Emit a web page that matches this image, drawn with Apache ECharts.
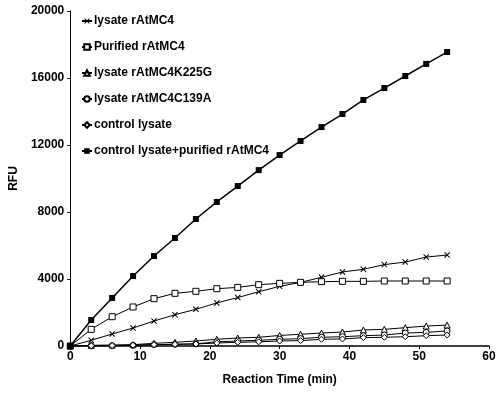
<!DOCTYPE html>
<html>
<head>
<meta charset="utf-8">
<script src="https://cdn.jsdelivr.net/npm/echarts@6/dist/echarts.min.js"></script>
<style>
  html, body { margin: 0; padding: 0; background: #fff; }
  #main { width: 504px; height: 396px; }
</style>
</head>
<body>
<div id="main"></div>
<script>
// reaction time (min)
var times = [0, 3, 6, 9, 12, 15, 18, 21, 24, 27, 30, 33, 36, 39, 42, 45, 48, 51, 54];

var lysateMC4 = [0, 340, 716, 1075, 1490, 1870, 2190, 2570, 2890, 3240, 3560, 3800, 4100, 4420, 4580, 4860, 5010, 5310, 5430];
var purifiedMC4 = [0, 995, 1750, 2330, 2825, 3145, 3265, 3420, 3500, 3660, 3740, 3800, 3840, 3860, 3860, 3880, 3880, 3880, 3880];
var lysateK225G = [0, 40, 60, 80, 160, 220, 300, 400, 477, 520, 630, 700, 775, 835, 955, 995, 1095, 1190, 1250];
var lysateC139A = [0, 10, 20, 40, 80, 100, 130, 250, 300, 340, 400, 440, 520, 555, 615, 655, 775, 815, 895];
var controlLysate = [0, 20, 30, 50, 80, 100, 120, 180, 220, 250, 300, 320, 400, 420, 500, 520, 555, 615, 655];
var controlPlusPurified = [0, 1550, 2870, 4180, 5370, 6450, 7580, 8600, 9550, 10500, 11400, 12240, 13070, 13850, 14690, 15400, 16120, 16840, 17550];

var xTicks = [0, 10, 20, 30, 40, 50, 60];
var yTicks = [0, 4000, 8000, 12000, 16000, 20000];

var font = 'Liberation Sans, Arial, Helvetica, sans-serif';
var xMark = 'path://M0,1.2L1.2,0L5,3.8L8.8,0L10,1.2L6.2,5L10,8.8L8.8,10L5,6.2L1.2,10L0,8.8L3.8,5Z';

function pairs(vals) {
    var out = [];
    for (var i = 0; i < times.length; i++) {
        out.push([times[i], vals[i]]);
    }
    return out;
}

function makeSeries(name, vals, symbol, size, filled, lineW) {
    return {
        name: name,
        type: 'line',
        data: pairs(vals),
        symbol: symbol,
        symbolSize: size,
        showAllSymbol: true,
        animation: false,
        lineStyle: { color: '#000', width: lineW },
        itemStyle: {
            color: filled ? '#000' : '#fff',
            borderColor: '#000',
            borderWidth: filled ? 0 : 1
        }
    };
}

var myChart = echarts.init(document.getElementById('main'));

var option = {
    backgroundColor: '#fff',
    grid: { left: 68, right: 15, top: 11, bottom: 50 },
    legend: {
        orient: 'vertical',
        left: 76,
        top: 10,
        itemWidth: 10,
        itemHeight: 7,
        itemGap: 14,
        textStyle: { fontFamily: font, fontWeight: 'bold', fontSize: 12, color: '#000', padding: [0, 0, 0, -3] },
        data: ['lysate rAtMC4', 'Purified rAtMC4', 'lysate rAtMC4K225G', 'lysate rAtMC4C139A', 'control lysate', 'control lysate+purified rAtMC4']
    },
    xAxis: {
        type: 'value',
        min: 0,
        max: 60,
        interval: 10,
        name: 'Reaction Time (min)',
        nameLocation: 'middle',
        nameGap: 28,
        nameTextStyle: { fontFamily: font, fontWeight: 'bold', fontSize: 12, color: '#000' },
        axisLine: { lineStyle: { color: '#000', width: 1.5 } },
        axisTick: { show: true, length: 3, lineStyle: { color: '#000' } },
        axisLabel: { fontFamily: font, fontWeight: 'bold', fontSize: 12, color: '#000', margin: 5 },
        splitLine: { show: false }
    },
    yAxis: {
        type: 'value',
        min: 0,
        max: 20000,
        interval: 4000,
        name: 'RFU',
        nameLocation: 'middle',
        nameGap: 45,
        nameTextStyle: { fontFamily: font, fontWeight: 'bold', fontSize: 12, color: '#000' },
        axisLine: { show: true, lineStyle: { color: '#000', width: 1 } },
        axisTick: { show: true, length: 3, lineStyle: { color: '#000' } },
        axisLabel: {
            fontFamily: font, fontWeight: 'bold', fontSize: 12, color: '#000', margin: 6,
            formatter: function (v) { return String(v); }
        },
        splitLine: { show: false }
    },
    series: [
        makeSeries('lysate rAtMC4', lysateMC4, xMark, 6, true, 1),
        makeSeries('Purified rAtMC4', purifiedMC4, 'rect', 6, false, 1),
        makeSeries('lysate rAtMC4K225G', lysateK225G, 'triangle', 6, false, 1),
        makeSeries('lysate rAtMC4C139A', lysateC139A, 'circle', 6, false, 1),
        makeSeries('control lysate', controlLysate, 'diamond', 6, false, 1),
        makeSeries('control lysate+purified rAtMC4', controlPlusPurified, 'rect', 6, true, 1.5)
    ]
};

myChart.setOption(option);
</script>
</body>
</html>
